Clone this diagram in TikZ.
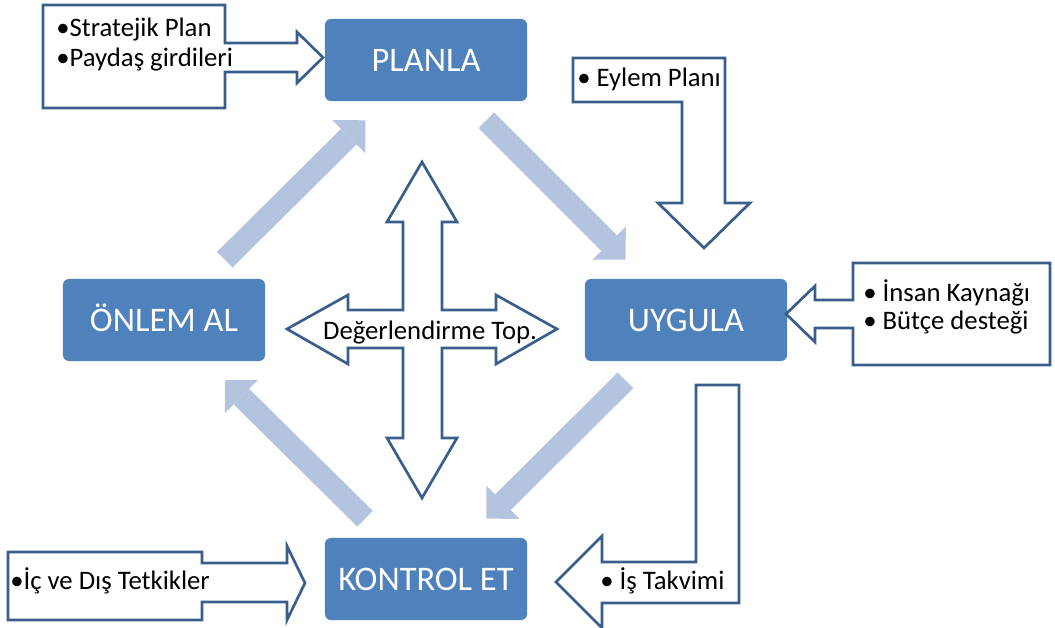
\documentclass[tikz,border=0pt]{standalone}
\usepackage{fontspec}
\setmainfont{Carlito}
\usetikzlibrary{arrows.meta}
\definecolor{boxblue}{RGB}{79,129,189}
\definecolor{flowblue}{RGB}{180,195,222}
\definecolor{edgeblue}{RGB}{58,94,140}

\begin{document}
\begin{tikzpicture}[x=0.025cm, y=-0.025cm,
  phase/.style={fill=boxblue, rounded corners=0.15cm, minimum width=5.05cm, minimum height=2.05cm,
    inner sep=0pt, text=white, font=\fontsize{24.5}{28}\selectfont, text height=15.8pt, text depth=0pt},
  flow/.style={draw=flowblue, line width=0.55cm, shorten <=0.675cm, shorten >=0.675cm,
    -{Triangle[length=0.58cm, width=1.17cm, line width=0pt]}},
  callout/.style={draw=edgeblue, line width=1.9pt, fill=white, line join=miter},
  lbl/.style={inner sep=0pt, anchor=base west, font=\fontsize{19}{22}\selectfont}]
\useasboundingbox (0,0) rectangle (1055,628);

\node[phase] (planla) at (426,60) {PLANLA};
\node[phase] (uygula) at (686,320) {UYGULA};
\node[phase] (onlem) at (164,320) {ÖNLEM AL};
\node[phase] (kontrol) at (426,579) {KONTROL ET};

\draw[flow] (onlem) -- (planla);
\draw[flow] (planla) -- (uygula);
\draw[flow] (uygula) -- (kontrol);
\draw[flow] (kontrol) -- (onlem);

\draw[callout] (43,5) -- (225,5) -- (225,43) -- (297,43) -- (297,32) -- (323,57.5) -- (297,83) -- (297,72) -- (225,72) -- (225,108) -- (43,108) -- cycle;
\node[lbl] (strateji) at (56,37) {•Stratejik Plan};
\node[lbl] (paydas) at (56,67) {•Paydaş girdileri};

\draw[callout] (573,58) -- (725,58) -- (725,203) -- (750,203) -- (704,248) -- (658,203) -- (682,203) -- (682,102) -- (573,102) -- cycle;
\node[lbl] (eylem) at (577,87) {• Eylem Planı};

\draw[callout] (853,263) -- (1050,263) -- (1050,365) -- (853,365) -- (853,328) -- (815,328) -- (815,342) -- (786,314) -- (815,286) -- (815,300) -- (853,300) -- cycle;
\node[lbl] (insan) at (863,302) {• İnsan Kaynağı};
\node[lbl] (butce) at (863,330) {• Bütçe desteği};

\draw[callout] (696,385) -- (739,385) -- (739,603) -- (602,603) -- (602,628) -- (556,582) -- (602,536) -- (602,562) -- (696,562) -- cycle;
\node[lbl] (takvim) at (600,590) {• İş Takvimi};

\draw[callout] (8,552) -- (202,552) -- (202,563) -- (287,563) -- (287,546) -- (305,583) -- (287,620) -- (287,602) -- (202,602) -- (202,620) -- (8,620) -- cycle;
\node[lbl] (tetkik) at (10,590) {•İç ve Dış Tetkikler};

\draw[callout, fill=none] (422,162) -- (457,222) -- (442,222) -- (442,310) -- (496,310) -- (496,295) -- (557,329) -- (496,364) -- (496,348) -- (442,348) -- (442,438) -- (457,438) -- (422,498) -- (387,438) -- (403,438) -- (403,348) -- (348,348) -- (348,364) -- (287,329) -- (348,295) -- (348,310) -- (403,310) -- (403,222) -- (387,222) -- cycle;
\node[lbl, anchor=base] (degerlendirme) at (430,340) {Değerlendirme Top.};
\end{tikzpicture}
\end{document}
